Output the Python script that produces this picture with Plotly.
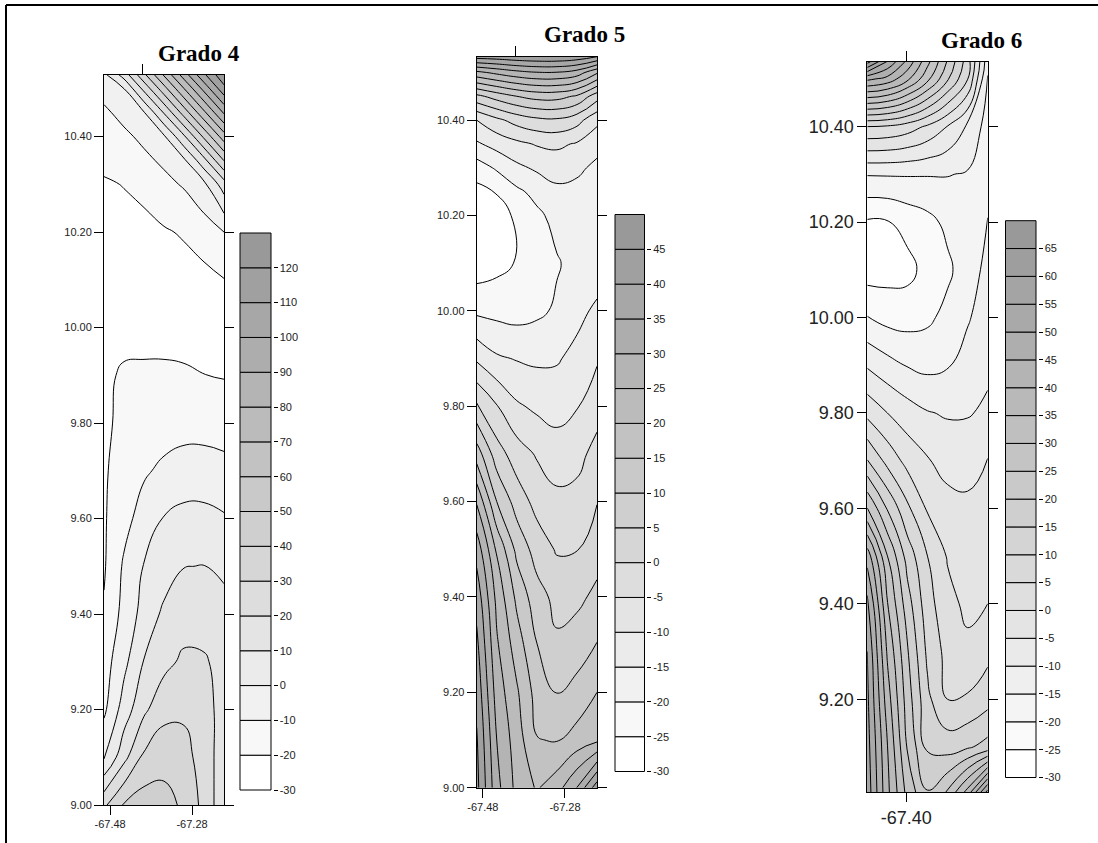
import plotly.graph_objects as go

W, H = 1098, 843

# ---------------------------------------------------------------- data
LON = [-67.495, -67.4462, -67.3973, -67.3485, -67.2997, -67.2508, -67.202]

LAT_4 = [9.0, 9.1, 9.2, 9.3, 9.4, 9.5, 9.6, 9.7, 9.8, 9.9, 10.0, 10.1, 10.2, 10.3, 10.35, 10.4, 10.45, 10.5, 10.529]
LAT_5 = [9.0, 9.1, 9.2, 9.3, 9.4, 9.5, 9.6, 9.7, 9.8, 9.9, 10.0, 10.1, 10.2, 10.25, 10.3, 10.35, 10.4, 10.45, 10.5, 10.533]
LAT_6 = [9.005, 9.1, 9.2, 9.3, 9.4, 9.5, 9.6, 9.7, 9.8, 9.9, 10.0, 10.1, 10.2, 10.3, 10.4, 10.5, 10.536]

# trend surface values, rows from south (9.00) to north, columns west to east
Z_4 = [
    [28, 41, 45, 44, 38, 27, 13],
    [-1, 17, 32, 36, 34, 25, 15],
    [-12, 4.6, 18, 27, 28, 23, 17],
    [-14.5, -2.7, 10.5, 17, 22, 21, 17],
    [-19, -6.7, 3.6, 12, 15, 16, 14],
    [-21, -8.6, 0.5, 5, 9.8, 10.2, 7.7],
    [-21, -13.3, -5.7, 0.5, 3, 3, 1],
    [-21, -16.3, -11.3, -8, -6, -6, -7],
    [-21.5, -18, -16, -14.5, -13.5, -13.5, -14.4],
    [-21.5, -19, -18.5, -18.5, -19, -19.9, -20.5],
    [-22, -22.5, -23, -23, -23, -23, -23],
    [-24, -24.5, -24.5, -24.5, -24, -23, -20.3],
    [-23, -23, -24, -21, -19, -15, -10],
    [-21, -19.7, -16.2, -12.7, -9, -2.3, 15.3],
    [-17.9, -15, -12.1, -8.3, -1.8, 16.8, 40.3],
    [-14.8, -11.9, -7.9, -1.4, 18.4, 41.9, 65.4],
    [-11.7, -7.2, -0.8, 20.7, 44.2, 67.7, 91.2],
    [-6.7, -0.2, 22.7, 46, 69.6, 93, 116.7],
    [-2.6, 14.1, 37.6, 61, 84.7, 108, 128],
]

Z_5 = [
    [46.5, 31.6, 23.5, 19.5, 22.9, 30.1, 43],
    [45.5, 30, 22.4, 15.2, 14.7, 17, 19],
    [43.6, 27.8, 20.7, 13, 9.7, 11.7, 15],
    [41.2, 25.7, 17.5, 10.1, 5.8, 7.5, 10.2],
    [38.1, 23.6, 13.8, 7, 3.5, 3.8, 6.2],
    [33, 19.3, 8.6, 2.8, -0.5, -0.2, 2.9],
    [24.5, 10, 2.8, -1.7, -3.8, -3.5, -0.2],
    [12.6, 2.3, -2.6, -5.5, -7.5, -6.5, -3.4],
    [0.8, -4.7, -9.3, -11, -12, -10.3, -6.9],
    [-10.8, -14.3, -15.3, -15.9, -15.5, -13.5, -10.6],
    [-21, -21.5, -22, -21, -19.3, -16.5, -14],
    [-28, -26.5, -24.7, -22.6, -20.4, -18.5, -18],
    [-28.5, -27, -24.2, -21, -18.5, -18, -18],
    [-26.5, -24.7, -21, -18.5, -16, -16.5, -17.5],
    [-22.5, -19.3, -16.1, -14.2, -13.1, -13.9, -16.2],
    [-15.7, -13.2, -11.2, -9.6, -9.0, -10.5, -13.2],
    [-10, -6.2, -3.1, -1.2, -0.8, -3.1, -8.8],
    [3.7, 7.1, 10.0, 11.8, 11.8, 9.3, 2.2],
    [23.8, 26.3, 28.5, 29.8, 29.8, 27.8, 20.8],
    [42, 42.5, 43.5, 44, 44, 43, 40],
]

Z_6 = [
    [58, 41.3, 28.3, 20.3, 25.5, 37, 57],
    [57, 40.2, 24.5, 14, 12.8, 14.3, 16.8],
    [56, 37.4, 22.5, 11.2, 5, 5.6, 8.1],
    [55, 34.3, 20.5, 8.9, 3.3, 1.1, 3.5],
    [51.5, 30.3, 17.2, 7, 1.5, -1.1, 0],
    [42.9, 25.1, 12.9, 5, -0.4, -2.6, -1.6],
    [25.1, 14.6, 6, -0.6, -3.3, -4.1, -3.2],
    [10.2, 3.4, -1.7, -4.6, -6.7, -6.6, -4.8],
    [-1.4, -5, -7.7, -9.7, -10.5, -10.4, -9.1],
    [-10.6, -13.2, -15.3, -16.3, -15.4, -13, -11],
    [-19.8, -21.7, -22, -21, -18.5, -15.5, -12.5],
    [-27.5, -27, -26.5, -23.3, -21, -17.3, -13.7],
    [-25.6, -25.3, -23.3, -21.5, -18.8, -17, -14.7],
    [-14.7, -14.6, -14.6, -14.7, -14.8, -15.4, -18],
    [5, 4.4, 2.5, -0.8, -5.2, -10.9, -17],
    [46.2, 43.4, 36.2, 26.4, 15.7, 5.2, -15.5],
    [67, 54.6, 43.6, 31.5, 19.5, 7.4, -13],
]

# colour-scale class boundaries
BOUNDS_4 = [-30, -20, -10, 0, 10, 20, 30, 40, 50, 60, 70, 80, 90, 100, 110, 120, 130]
BOUNDS_5 = [-30, -25, -20, -15, -10, -5, 0, 5, 10, 15, 20, 25, 30, 35, 40, 45, 50]
BOUNDS_6 = [-30, -25, -20, -15, -10, -5, 0, 5, 10, 15, 20, 25, 30, 35, 40, 45, 50, 55, 60, 65, 70]

Y_TICKS = [9.0, 9.2, 9.4, 9.6, 9.8, 10.0, 10.2, 10.4]
X_TICKS_45 = [-67.48, -67.28]
X_TICKS_6 = [-67.40]
TOP_TICKS = [-67.40]

TITLES = ["Grado 4", "Grado 5", "Grado 6"]

# ---------------------------------------------------------------- layout helpers
SANS = "Liberation Sans, Arial, sans-serif"
SERIF = "Liberation Serif, Times New Roman, serif"


def fx(px):
    return px / W


def fy(py):
    return 1 - py / H


def grays(n):
    return ["rgb({0},{0},{0})".format(round(255 - k * (255 - 153) / (n - 1))) for k in range(n)]


def fmt(v):
    return "%.2f" % v


PANELS = [
    dict(lat=LAT_4, z=Z_4, bounds=BOUNDS_4, xticks=X_TICKS_45,
         plot=(104, 224, 75, 805), cb=(240, 271, 233, 790), tick_font=11,
         title=TITLES[0], title_xy=(199, 53)),
    dict(lat=LAT_5, z=Z_5, bounds=BOUNDS_5, xticks=X_TICKS_45,
         plot=(476.7, 597, 56.7, 787.7), cb=(615, 644.5, 214.5, 771.5), tick_font=11,
         title=TITLES[1], title_xy=(584, 35)),
    dict(lat=LAT_6, z=Z_6, bounds=BOUNDS_6, xticks=X_TICKS_6,
         plot=(867.3, 987.7, 61.7, 792.3), cb=(1005.5, 1036, 220.7, 777.5), tick_font=18,
         title=TITLES[2], title_xy=(981, 41)),
]

fig = go.Figure()
layout = dict(
    width=W, height=H, margin=dict(l=0, r=0, t=0, b=0, autoexpand=False),
    paper_bgcolor="white", plot_bgcolor="white",
    showlegend=False, barmode="overlay",
    annotations=[], shapes=[],
)


def axkey(kind, n):
    return kind + "axis" + ("" if n == 1 else str(n))


for i, p in enumerate(PANELS):
    xm, xt, xc = 3 * i + 1, 3 * i + 2, 3 * i + 3
    ym, yc = 2 * i + 1, 2 * i + 2
    xm_id = "x" if xm == 1 else "x%d" % xm
    ym_id = "y" if ym == 1 else "y%d" % ym
    xt_id, xc_id, yc_id = "x%d" % xt, "x%d" % xc, "y%d" % yc

    bounds = p["bounds"]
    nb = len(bounds) - 1
    step = bounds[1] - bounds[0]
    cols = grays(nb)
    cscale = [[k / (nb - 1), c] for k, c in enumerate(cols)]

    # filled contour map
    fig.add_trace(go.Contour(
        x=LON, y=p["lat"], z=p["z"], xaxis=xm_id, yaxis=ym_id,
        autocontour=False,
        contours=dict(start=bounds[1], end=bounds[-2], size=step,
                      coloring="fill", showlines=True),
        line=dict(color="black", width=1, smoothing=1.3),
        colorscale=cscale, showscale=False, hoverinfo="skip",
    ))
    # keeps the top tick axis alive
    fig.add_trace(go.Scatter(x=[], y=[], xaxis=xt_id, yaxis=ym_id, hoverinfo="skip"))

    L, R, T, B = p["plot"]
    tf = dict(family=SANS, size=p["tick_font"], color="#222")
    layout[axkey("x", xm)] = dict(
        domain=[fx(L), fx(R)], range=[LON[0], LON[-1]], anchor=ym_id,
        tickvals=p["xticks"], ticktext=[fmt(v) for v in p["xticks"]],
        ticks="outside", ticklen=9, tickwidth=1, tickcolor="black",
        showline=True, linecolor="black", linewidth=1, mirror=False,
        showgrid=False, zeroline=False, tickfont=tf, fixedrange=True,
    )
    layout[axkey("x", xt)] = dict(
        overlaying=xm_id, side="top", anchor=ym_id, range=[LON[0], LON[-1]],
        tickvals=TOP_TICKS, showticklabels=False,
        ticks="outside", ticklen=10, tickwidth=1, tickcolor="black",
        showline=True, linecolor="black", linewidth=1,
        showgrid=False, zeroline=False, fixedrange=True,
    )
    layout[axkey("y", ym)] = dict(
        domain=[fy(B), fy(T)], range=[p["lat"][0], p["lat"][-1]], anchor=xm_id,
        tickvals=Y_TICKS, ticktext=[fmt(v) for v in Y_TICKS],
        ticks="outside", ticklen=9, tickwidth=1, tickcolor="black",
        showline=True, linecolor="black", linewidth=1, mirror="ticks",
        showgrid=False, zeroline=False, tickfont=tf, fixedrange=True,
    )

    # class legend drawn as a stack of bars
    cL, cR, cT, cB = p["cb"]
    fig.add_trace(go.Bar(
        x=[0] * nb, y=[bounds[k + 1] - bounds[k] for k in range(nb)], base=bounds[:-1],
        width=1, xaxis=xc_id, yaxis=yc_id,
        marker=dict(color=cols, line=dict(color="black", width=1)),
        hoverinfo="skip",
    ))
    pxu = cR - cL
    pyu = (cB - cT) / (bounds[-1] - bounds[0])
    pad = 1.5
    layout[axkey("x", xc)] = dict(
        domain=[fx(cL - pad), fx(cR + pad)],
        range=[-0.5 - pad / pxu, 0.5 + pad / pxu], anchor=yc_id,
        visible=False, fixedrange=True,
    )
    layout[axkey("y", yc)] = dict(
        domain=[fy(cB + pad), fy(cT - pad)],
        range=[bounds[0] - pad / pyu, bounds[-1] + pad / pyu], anchor=xc_id, side="right",
        tickvals=bounds[:-1], ticktext=[str(v) for v in bounds[:-1]],
        ticks="outside", ticklen=4, tickwidth=1, tickcolor="black",
        showline=False, showgrid=False, zeroline=False,
        tickfont=dict(family=SANS, size=11, color="#222"), fixedrange=True,
    )

    tx, ty = p["title_xy"]
    layout["annotations"].append(dict(
        xref="paper", yref="paper", x=fx(tx), y=fy(ty), xanchor="center", yanchor="middle",
        text="<b>%s</b>" % p["title"], showarrow=False,
        font=dict(family=SERIF, size=23, color="black"),
    ))

# page frame
layout["shapes"] = [
    dict(type="line", xref="paper", yref="paper", x0=fx(6), x1=1, y0=fy(5), y1=fy(5),
         line=dict(color="black", width=2)),
    dict(type="line", xref="paper", yref="paper", x0=fx(6), x1=fx(6), y0=0, y1=fy(5),
         line=dict(color="black", width=2)),
]

fig.update_layout(**layout)
fig.write_html(
    "out.html",
    config={"displayModeBar": False, "responsive": False},
    post_script="document.body.style.margin='0';document.body.style.background='#ffffff';",
)
